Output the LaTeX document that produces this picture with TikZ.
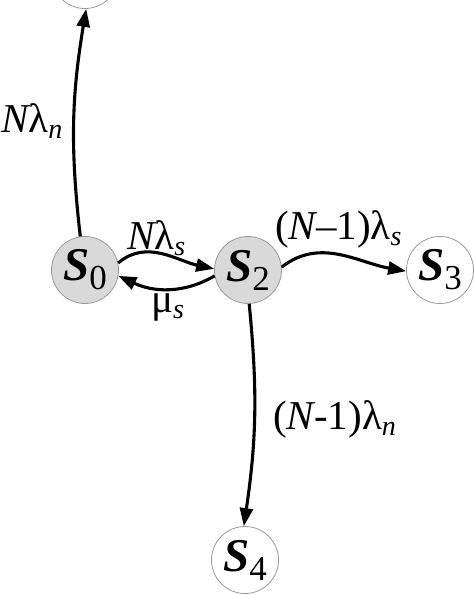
\documentclass[tikz,border=0pt]{standalone}
\usepackage{fontspec}
\setmainfont{Liberation Serif}
\usetikzlibrary{arrows.meta}
\newcommand{\stname}[1]{{\fontsize{47}{47}\selectfont\bfseries\itshape S}\raisebox{-9pt}{\fontsize{35}{35}\selectfont #1}}
\newcommand{\bigtxt}{\fontsize{41}{41}\selectfont}
\newcommand{\subtxt}[1]{\raisebox{-6pt}{\fontsize{28}{28}\selectfont\itshape #1}}
\tikzset{
  state/.style={circle,draw=gray!80,line width=0.8pt,minimum size=67pt,inner sep=0pt},
  busy/.style={state,fill=gray!30},
  idle/.style={state,fill=white},
  arr/.style={line width=3.1pt,-{Triangle[length=18pt,width=13pt]}},
  lab/.style={inner sep=0pt,anchor=base west}
}
\begin{document}
\begin{tikzpicture}[x=1pt,y=1pt]
\useasboundingbox (0,0) rectangle (474,595);
\node[idle] (top) at (85,620) {};
\node[busy] (s0) at (85,325) {\stname{0}};
\node[busy] (s2) at (248,325) {\stname{2}};
\node[idle] (s3) at (440,325) {\stname{3}};
\node[idle] (s4) at (245,35) {\stname{4}};
\draw[arr] (s0.98) to[bend left=8] (top.272);
\draw[arr] (s0.12) to[out=40,in=168] (s2.178);
\draw[arr] (s2.190) to[out=-150,in=-25] (s0.-10);
\draw[arr] (s2.5) to[out=38,in=170] (s3.182);
\draw[arr] (s2.-88) to[bend left=7] (s4.92);
\node[lab] (ln) at (1,462) {\bigtxt\itshape N\upshape λ\subtxt{n}};
\node[lab] (ls) at (127,345) {\bigtxt\itshape N\upshape λ\subtxt{s}};
\node[lab] (lm) at (151,282) {\bigtxt μ\subtxt{s}};
\node[lab] (l3) at (275,355) {\bigtxt (\itshape N\upshape –1)λ\subtxt{s}};
\node[lab] (l4) at (273,165) {\bigtxt (\itshape N\upshape -1)λ\subtxt{n}};
\end{tikzpicture}
\end{document}
